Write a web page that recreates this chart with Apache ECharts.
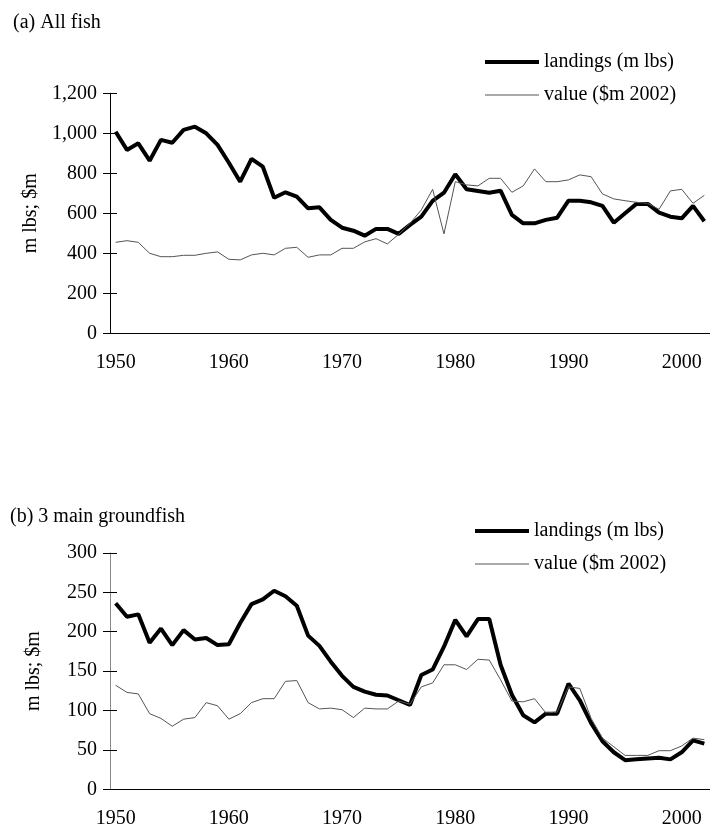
<!DOCTYPE html>
<html>
<head>
<meta charset="utf-8">
<script src="https://cdn.jsdelivr.net/npm/echarts@6/dist/echarts.min.js"></script>
<style>
  html, body { margin: 0; padding: 0; background: #fff; }
  #chart { width: 710px; height: 830px; }
</style>
</head>
<body>
<div id="chart"></div>
<script>
const years = [
  '1950', '1951', '1952', '1953', '1954', '1955', '1956', '1957', '1958', '1959',
  '1960', '1961', '1962', '1963', '1964', '1965', '1966', '1967', '1968', '1969',
  '1970', '1971', '1972', '1973', '1974', '1975', '1976', '1977', '1978', '1979',
  '1980', '1981', '1982', '1983', '1984', '1985', '1986', '1987', '1988', '1989',
  '1990', '1991', '1992', '1993', '1994', '1995', '1996', '1997', '1998', '1999',
  '2000', '2001', '2002'
]

// (a) all fish
const landingsAll = [
  1008, 917, 950, 863, 967, 953, 1017, 1033, 1000, 942,
  853, 758, 872, 833, 678, 705, 683, 625, 630, 567,
  528, 513, 488, 522, 522, 497, 542, 583, 662, 703,
  795, 720, 712, 703, 713, 592, 550, 550, 567, 578,
  663, 663, 655, 637, 553, 600, 647, 647, 603, 583,
  575, 637, 560
]
const valueAll = [
  455, 463, 455, 400, 383, 383, 390, 390, 400, 407,
  370, 367, 392, 400, 392, 425, 430, 380, 392, 392,
  425, 425, 457, 473, 447, 495, 550, 617, 720, 497,
  758, 742, 737, 775, 775, 705, 737, 822, 758, 758,
  767, 792, 783, 697, 672, 663, 655, 650, 620, 712,
  720, 650, 690
]

// (b) 3 main groundfish
const landingsGround = [
  236, 219, 222, 186, 204, 183, 202, 190, 192, 183,
  184, 211, 235, 241, 252, 245, 233, 195, 182, 162,
  144, 130, 124, 120, 119, 113, 107, 145, 152, 181,
  215, 194, 216, 216, 158, 120, 94, 85, 96, 96,
  134, 113, 84, 61, 47, 37, 38, 39, 40, 38,
  47, 62, 58
]
const valueGround = [
  132, 123, 121, 96, 90, 80, 89, 91, 110, 106,
  89, 96, 110, 115, 115, 137, 138, 110, 102, 103,
  101, 91, 103, 102, 102, 112, 108, 130, 135, 158,
  158, 152, 165, 164, 139, 112, 111, 115, 97, 98,
  130, 128, 90, 65, 54, 43, 43, 43, 49, 49,
  55, 65, 63
]

const seriesNames = ['landings (m lbs)', 'value ($m 2002)']
const FONT = 'Liberation Serif'
const FS = 20
const fmt = v => v.toLocaleString('en-US')

const chart = echarts.init(document.getElementById('chart'), null, { renderer: 'canvas' })

function xAxes(grid) {
  return [
    {
      type: 'category', gridIndex: grid, data: years, position: 'bottom',
      boundaryGap: true,
      axisLine: { lineStyle: { color: '#000', width: 1 } },
      axisTick: { interval: 4, length: 6, lineStyle: { color: '#000' } },
      axisLabel: { interval: 9, color: '#000', fontFamily: FONT, fontSize: FS, margin: 19 },
      splitLine: { show: false }
    },
    {
      // inner half of the cross ticks
      type: 'category', gridIndex: grid, data: years, position: 'bottom',
      boundaryGap: true,
      axisLine: { show: false },
      axisTick: { interval: 4, length: 6, inside: true, lineStyle: { color: '#000' } },
      axisLabel: { show: false },
      splitLine: { show: false }
    }
  ]
}

function yAxes(grid, max, step, lineColor) {
  return [
    {
      type: 'value', gridIndex: grid, min: 0, max: max, interval: step, position: 'left',
      name: 'm lbs; $m', nameLocation: 'middle', nameGap: 66,
      nameTextStyle: { color: '#000', fontFamily: FONT, fontSize: FS },
      axisLine: { show: true, lineStyle: { color: lineColor, width: 1 } },
      axisTick: { show: true, length: 7, lineStyle: { color: '#000' } },
      axisLabel: { color: '#000', fontFamily: FONT, fontSize: FS, margin: 13, formatter: fmt },
      splitLine: { show: false }
    },
    {
      type: 'value', gridIndex: grid, min: 0, max: max, interval: step, position: 'left',
      axisLine: { show: false },
      axisTick: { show: true, inside: true, length: 7, lineStyle: { color: '#000' } },
      axisLabel: { show: false },
      splitLine: { show: false }
    }
  ]
}

function lineSeries(name, data, grid, thick) {
  return {
    name: name, type: 'line', data: data,
    xAxisIndex: grid * 2, yAxisIndex: grid * 2,
    symbol: 'none', showSymbol: false, animation: false,
    lineStyle: thick ? { color: '#000', width: 4 } : { color: '#555', width: 1 },
    itemStyle: { color: thick ? '#000' : '#555' }
  }
}

function legend(left, top) {
  return {
    data: seriesNames, orient: 'vertical', left: left, top: top,
    itemWidth: 54, itemHeight: 14, itemGap: 13,
    lineStyle: { width: 'inherit' },
    itemStyle: { opacity: 0 },
    selectedMode: false,
    textStyle: { color: '#000', fontFamily: FONT, fontSize: FS, lineHeight: 20 }
  }
}

chart.setOption({
  backgroundColor: '#fff',
  animation: false,
  title: [
    { text: '(a) All fish', left: 8, top: 8,
      textStyle: { color: '#000', fontFamily: FONT, fontSize: FS, fontWeight: 'normal' } },
    { text: '(b) 3 main groundfish', left: 5, top: 502,
      textStyle: { color: '#000', fontFamily: FONT, fontSize: FS, fontWeight: 'normal' } }
  ],
  legend: [legend(478, 47), legend(468, 516)],
  grid: [
    { left: 110, top: 93.3, width: 609.5, height: 240 },
    { left: 110, top: 552.9, width: 609.5, height: 236.4 }
  ],
  xAxis: [...xAxes(0), ...xAxes(1)],
  yAxis: [...yAxes(0, 1200, 200, '#000'), ...yAxes(1, 300, 50, '#888')],
  series: [
    lineSeries(seriesNames[0], landingsAll, 0, true),
    lineSeries(seriesNames[1], valueAll, 0, false),
    lineSeries(seriesNames[0], landingsGround, 1, true),
    lineSeries(seriesNames[1], valueGround, 1, false)
  ]
})
</script>
</body>
</html>
